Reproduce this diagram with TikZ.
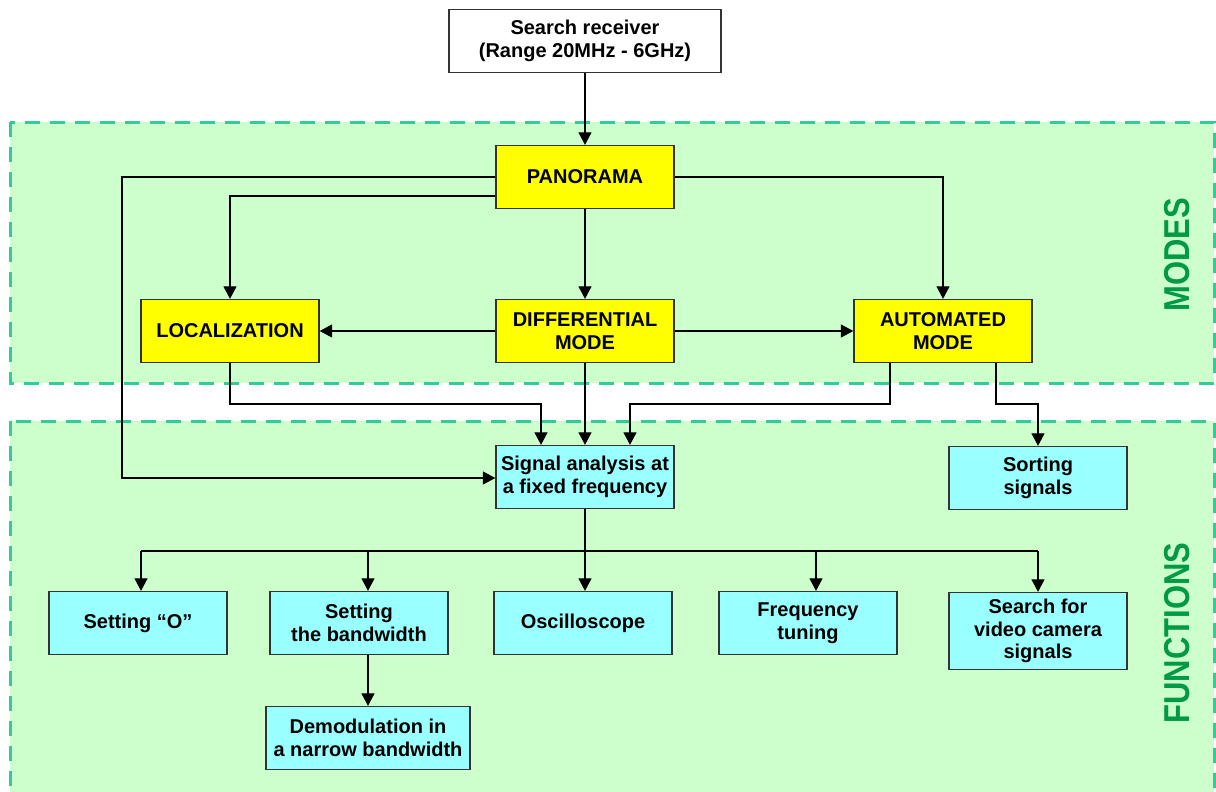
\documentclass[tikz,border=0pt]{standalone}
\usepackage{fontspec}
\setmainfont{Liberation Sans}
\newfontfamily\lblfont[FakeStretch=0.86]{Liberation Sans}
\usetikzlibrary{arrows.meta}
\definecolor{regfill}{HTML}{CCFFCC}
\definecolor{regdash}{HTML}{33CC99}
\definecolor{yfill}{HTML}{FFFF00}
\definecolor{cfill}{HTML}{99FFFF}
\definecolor{lblgreen}{HTML}{009944}
\definecolor{edgecol}{HTML}{333333}
\begin{document}
\begin{tikzpicture}[x=1pt,y=-1pt,
  box/.style={draw=edgecol, line width=1.3pt, align=center,
    font=\fontsize{20}{22.5}\selectfont\bfseries, inner sep=0pt,
    minimum width=178pt, minimum height=63pt},
  wbox/.style={box, fill=white},
  ybx/.style={box, fill=yfill},
  cbx/.style={box, fill=cfill},
  region/.style={fill=regfill, draw=regdash, line width=3pt, dash pattern=on 15pt off 10pt},
  conn/.style={draw=black, line width=1.2pt},
  arr/.style={conn, -{Triangle[length=12.5pt,width=13pt]}},
  lbl/.style={font=\lblfont\fontsize{36}{36}\selectfont\bfseries, text=lblgreen, rotate=90, inner sep=0pt}]
\clip (0,0) rectangle (1216,792);
\fill[white] (0,0) rectangle (1216,792);
\draw[region] (10,122) rectangle (1214,383);
\draw[region] (10,421) rectangle (1214,840);

% nodes
\node[wbox, minimum width=272pt, minimum height=63pt] (sr) at (585,41) {Search receiver\\(Range 20MHz - 6GHz)};
\node[ybx] (pan) at (585,177) {PANORAMA};
\node[ybx] (loc) at (230,331) {LOCALIZATION};
\node[ybx] (dif) at (585,331) {DIFFERENTIAL\\MODE};
\node[ybx] (aut) at (943,331) {AUTOMATED\\MODE};
\node[lbl] (modes) at (1177,255) {MODES};
\node[cbx] (sig) at (585,477) {Signal analysis at\\a fixed frequency};
\node[cbx] (sort) at (1038,478) {Sorting\\signals};
\node[cbx] (set0) at (138,623) {Setting “O”};
\node[cbx] (bw) at (359,623) {Setting\\the bandwidth};
\node[cbx] (osc) at (583,623) {Oscilloscope};
\node[cbx] (frq) at (808,623) {Frequency\\tuning};
\node[cbx, minimum height=77pt] (vid) at (1038,631) {Search for\\video camera\\signals};
\node[cbx, minimum width=204pt] (dem) at (368,738) {Demodulation in\\a narrow bandwidth};
\node[lbl] (fun) at (1177,633) {FUNCTIONS};

% helper coordinates
\coordinate (pl1) at (122,177);
\coordinate (pl2) at (230,196);

% connectors
\draw[arr] (sr) -- (pan);
\draw[arr] (pan.west |- pl1) -| (122,478) -- (sig.west |- 0,478);
\draw[arr] (pan.west |- pl2) -| (loc.north);
\draw[arr] (pan) -- (dif);
\draw[arr] (pan.east |- pl1) -| (aut.north);
\draw[arr] (dif.west) -- (loc.east);
\draw[arr] (dif.east) -- (aut.west);
\draw[arr] (loc.south) -- (230,404) -| (sig.north -| 541,0);
\draw[arr] (dif.south) -- (sig.north);
\draw[arr] (aut.south -| 890,0) -- (890,404) -| (sig.north -| 630,0);
\draw[arr] (aut.south -| 996,0) -- (996,404) -| (sort.north);
\draw[arr] (sig.south) -- (osc.north -| sig.south);
\draw[conn] (141,551) -- (1038,551);
\draw[arr] (141,551) -- (set0.north -| 141,0);
\draw[arr] (368,551) -- (bw.north -| 368,0);
\draw[arr] (816,551) -- (frq.north -| 816,0);
\draw[arr] (1038,551) -- (vid.north);
\draw[arr] (bw.south -| 368,0) -- (dem.north -| 368,0);
\end{tikzpicture}
\end{document}
